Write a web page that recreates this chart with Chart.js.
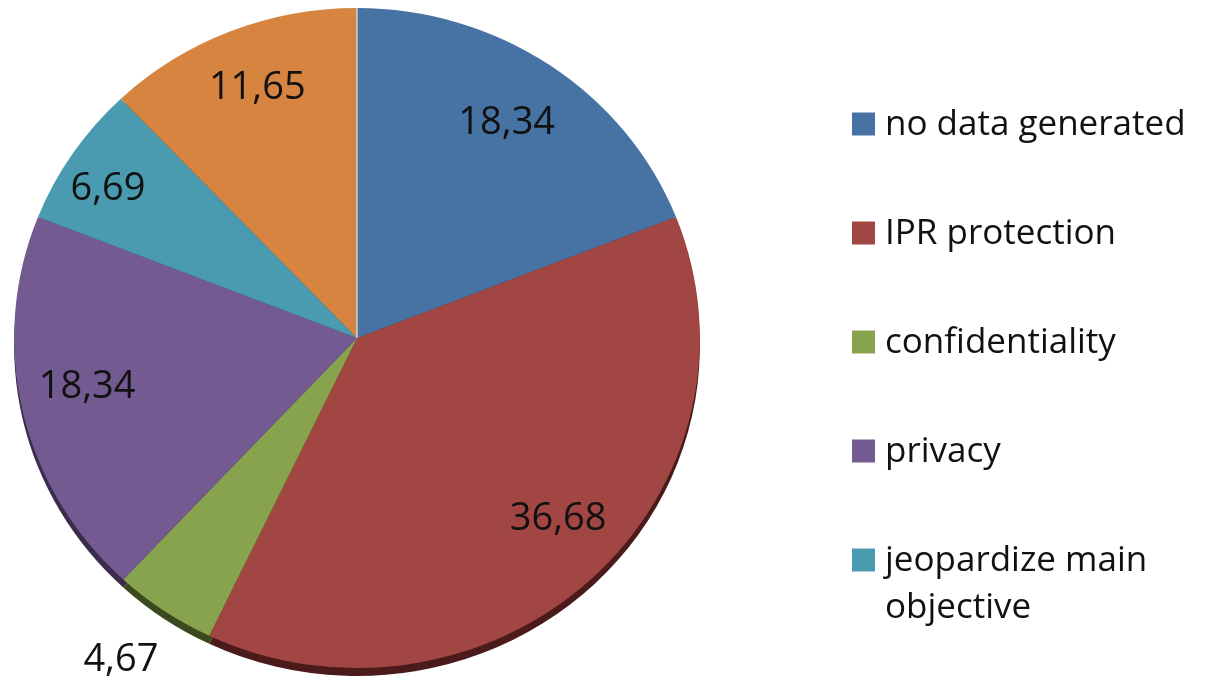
<!DOCTYPE html>
<html><head><meta charset="utf-8">
<script src="https://cdn.jsdelivr.net/npm/chart.js@4.4.1/dist/chart.umd.min.js"></script>
<style>html,body{margin:0;padding:0;background:#fff;}#wrap{width:1212px;height:680px;position:relative;}</style>
</head><body><div id="wrap"><canvas id="c" width="1212" height="680"></canvas></div>
<script>
const categories = ['no data generated', 'IPR protection', 'confidentiality', 'privacy', 'jeopardize main objective', 'other'];
const values = [18.34, 36.68, 4.67, 18.34, 6.69, 11.65];
const valueLabels = ['18,34', '36,68', '4,67', '18,34', '6,69', '11,65'];
const colors = ['#4672A4', '#A24644', '#87A34E', '#735A91', '#4A9BB0', '#D6843F'];
const shadowColors = ['#2a4365', '#4b1b1b', '#3a4a1e', '#3b2c4d', '#23505d', '#6e4220'];
const legendShown = [true, true, true, true, true, false];
const labelRadius = [0.79, 0.80, 1.19, 0.80, 0.858, 0.817];
const labelAngleShift = [-0.7, -4.2, 1.1, 2.5, -1.8, 0.9];   // degrees

const SX = 1.039;        // slight horizontal stretch of the pie (3D look)
const FONT = '"Open Sans", "DejaVu Sans", sans-serif';

const piePlugin = {
  id: 'piePlugin',
  beforeDatasetsDraw(chart) {
    const ctx = chart.ctx;
    const meta = chart.getDatasetMeta(0);
    const a0 = meta.data[0];
    ctx.save();
    ctx.translate(a0.x, a0.y);
    ctx.scale(SX, 1);
    ctx.translate(-a0.x, -a0.y);
    meta.data.forEach((arc, i) => {
      const off = 8;
      ctx.beginPath();
      ctx.moveTo(arc.x, arc.y + off);
      ctx.arc(arc.x, arc.y + off, arc.outerRadius, arc.startAngle, arc.endAngle);
      ctx.closePath();
      ctx.fillStyle = shadowColors[i];
      ctx.fill();
    });
  },
  afterDatasetsDraw(chart) {
    const ctx = chart.ctx;
    const meta = chart.getDatasetMeta(0);
    const a0 = meta.data[0];
    ctx.beginPath();
    ctx.moveTo(a0.x, a0.y);
    ctx.lineTo(a0.x + Math.cos(a0.startAngle) * a0.outerRadius, a0.y + Math.sin(a0.startAngle) * a0.outerRadius);
    ctx.strokeStyle = 'rgba(220,225,235,0.8)';
    ctx.lineWidth = 1.5;
    ctx.stroke();
    ctx.restore();
    ctx.save();
    ctx.font = '38px ' + FONT;
    ctx.fillStyle = '#111111';
    ctx.textAlign = 'center';
    ctx.textBaseline = 'middle';
    meta.data.forEach((arc, i) => {
      const mid = (arc.startAngle + arc.endAngle) / 2 + labelAngleShift[i] * Math.PI / 180;
      const r = arc.outerRadius * labelRadius[i];
      const x = arc.x + Math.cos(mid) * r * SX;
      const y = arc.y + Math.sin(mid) * r;
      ctx.fillText(valueLabels[i], x, y + 2);
    });
    ctx.restore();
  },
  afterDraw(chart) {
    const ctx = chart.ctx;
    const ds = chart.data.datasets[0];
    ctx.save();
    ctx.font = '35px ' + FONT;
    ctx.textAlign = 'left';
    ctx.textBaseline = 'alphabetic';
    let row = 0;
    const top = 124, step = 109, boxX = 852, box = 23, textX = 885, maxW = 320, lineH = 47;
    chart.data.labels.forEach((lab, i) => {
      if (!legendShown[i]) return;
      const cy = top + step * row;
      ctx.fillStyle = ds.backgroundColor[i];
      ctx.fillRect(boxX, cy - box / 2, box, box);
      const words = lab.split(' ');
      const lines = [];
      let cur = '';
      words.forEach(w => {
        const t = cur ? cur + ' ' + w : w;
        if (ctx.measureText(t).width > maxW && cur) { lines.push(cur); cur = w; }
        else cur = t;
      });
      if (cur) lines.push(cur);
      ctx.fillStyle = '#111111';
      lines.forEach((ln, k) => ctx.fillText(ln, textX, cy + 11 + k * lineH));
      row++;
    });
    ctx.restore();
  }
};

new Chart(document.getElementById('c'), {
  type: 'pie',
  data: {
    labels: categories,
    datasets: [{
      data: values,
      backgroundColor: colors,
      borderWidth: 0
    }]
  },
  options: {
    responsive: false,
    animation: false,
    layout: { padding: { left: 27, right: 525, top: 8, bottom: 12 } },
    plugins: { legend: { display: false }, tooltip: { enabled: false } }
  },
  plugins: [piePlugin]
});
</script>
</body></html>
